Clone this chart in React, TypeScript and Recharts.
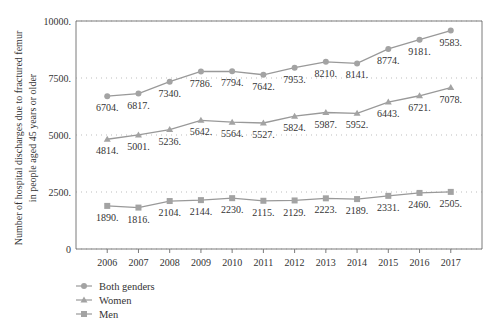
import React from "react";
import {
  LineChart,
  Line,
  XAxis,
  YAxis,
  CartesianGrid,
  ReferenceLine,
  LabelList,
  Legend,
} from "recharts";

// Years and yearly discharge counts
const years = [2006, 2007, 2008, 2009, 2010, 2011, 2012, 2013, 2014, 2015, 2016, 2017];
const bothGenders = [6704, 6817, 7340, 7786, 7794, 7642, 7953, 8210, 8141, 8774, 9181, 9583];
const women = [4814, 5001, 5236, 5642, 5564, 5527, 5824, 5987, 5952, 6443, 6721, 7078];
const men = [1890, 1816, 2104, 2144, 2230, 2115, 2129, 2223, 2189, 2331, 2460, 2505];
const yTicks = [0, 2500, 5000, 7500, 10000];

const series = [
  { key: "both", name: "Both genders", shape: "circle" },
  { key: "women", name: "Women", shape: "triangle" },
  { key: "men", name: "Men", shape: "square" },
];

const data = years.map((year, i) => ({
  year,
  both: bothGenders[i],
  women: women[i],
  men: men[i],
}));

const LINE = "#999999";
const MARK = "#a3a3a3";
const AXIS = "#7a7a7a";
const TEXT = "#333333";
const FONT = "'Liberation Serif', 'DejaVu Serif', serif";

const Marker = ({ shape, cx, cy }: { shape: string; cx: number; cy: number }) => {
  if (shape === "circle") return <circle cx={cx} cy={cy} r={3} fill={MARK} />;
  if (shape === "square")
    return <rect x={cx - 3} y={cy - 3} width={6} height={6} fill={MARK} />;
  return (
    <polygon
      points={`${cx},${cy - 3.5} ${cx + 3.5},${cy + 2.5} ${cx - 3.5},${cy + 2.5}`}
      fill={MARK}
    />
  );
};

const makeDot = (shape: string) => (props: any) => (
  <Marker key={`${shape}-${props.index}`} shape={shape} cx={props.cx} cy={props.cy} />
);

const YLabel = () => (
  <g fontFamily={FONT} fontSize={10} fill={TEXT}>
    <text transform="translate(22,138) rotate(-90)" textAnchor="middle">
      Number of hospital discharges due to fractured femur
    </text>
    <text transform="translate(36,138) rotate(-90)" textAnchor="middle">
      in people aged 45 years or older
    </text>
  </g>
);

const LegendBox = () => (
  <div style={{ paddingLeft: 76, height: 42, fontFamily: FONT, fontSize: 10.5, color: TEXT }}>
    {series.map((s) => (
      <div key={s.key} style={{ display: "flex", alignItems: "center", height: 14 }}>
        <svg width={18} height={14}>
          <line x1={0} y1={7} x2={16} y2={7} stroke={LINE} strokeWidth={1.2} />
          <Marker shape={s.shape} cx={8} cy={7} />
        </svg>
        <span style={{ marginLeft: 5 }}>{s.name}</span>
      </div>
    ))}
  </div>
);

const App = () => {
  return (
    <div style={{ position: "fixed", left: 0, top: 0, background: "#fff" }}>
      <LineChart
        width={500}
        height={336}
        data={data}
        margin={{ top: 21, right: 18, left: 0, bottom: 15 }}
      >
        <CartesianGrid
          vertical={false}
          stroke="#bdbdbd"
          strokeDasharray="1 4"
        />
        <XAxis
          dataKey="year"
          type="number"
          domain={[2005, 2018]}
          ticks={years}
          height={30}
          stroke={AXIS}
          tickSize={4}
          tickMargin={6}
          tick={{ fill: TEXT, fontSize: 10, fontFamily: FONT }}
        />
        <YAxis
          domain={[0, 10000]}
          ticks={yTicks}
          width={76}
          stroke={AXIS}
          tickLine={false}
          tickSize={0}
          tickMargin={5}
          tickFormatter={(v: number) => (v === 0 ? "0" : `${v}.`)}
          tick={{ fill: TEXT, fontSize: 10, fontFamily: FONT }}
          label={<YLabel />}
        />
        <ReferenceLine y={10000} stroke={AXIS} />
        <ReferenceLine x={2018} stroke={AXIS} />
        <Legend
          layout="horizontal"
          verticalAlign="bottom"
          align="left"
          content={<LegendBox />}
        />
        {series.map((s) => (
          <Line
            key={s.key}
            dataKey={s.key}
            name={s.name}
            stroke={LINE}
            strokeWidth={1.3}
            dot={makeDot(s.shape)}
            isAnimationActive={false}
          >
            <LabelList
              dataKey={s.key}
              position="bottom"
              offset={8}
              formatter={(v: any) => `${v}.`}
              style={{ fill: TEXT, fontSize: 10, fontFamily: FONT }}
            />
          </Line>
        ))}
      </LineChart>
    </div>
  );
};

export default App;
